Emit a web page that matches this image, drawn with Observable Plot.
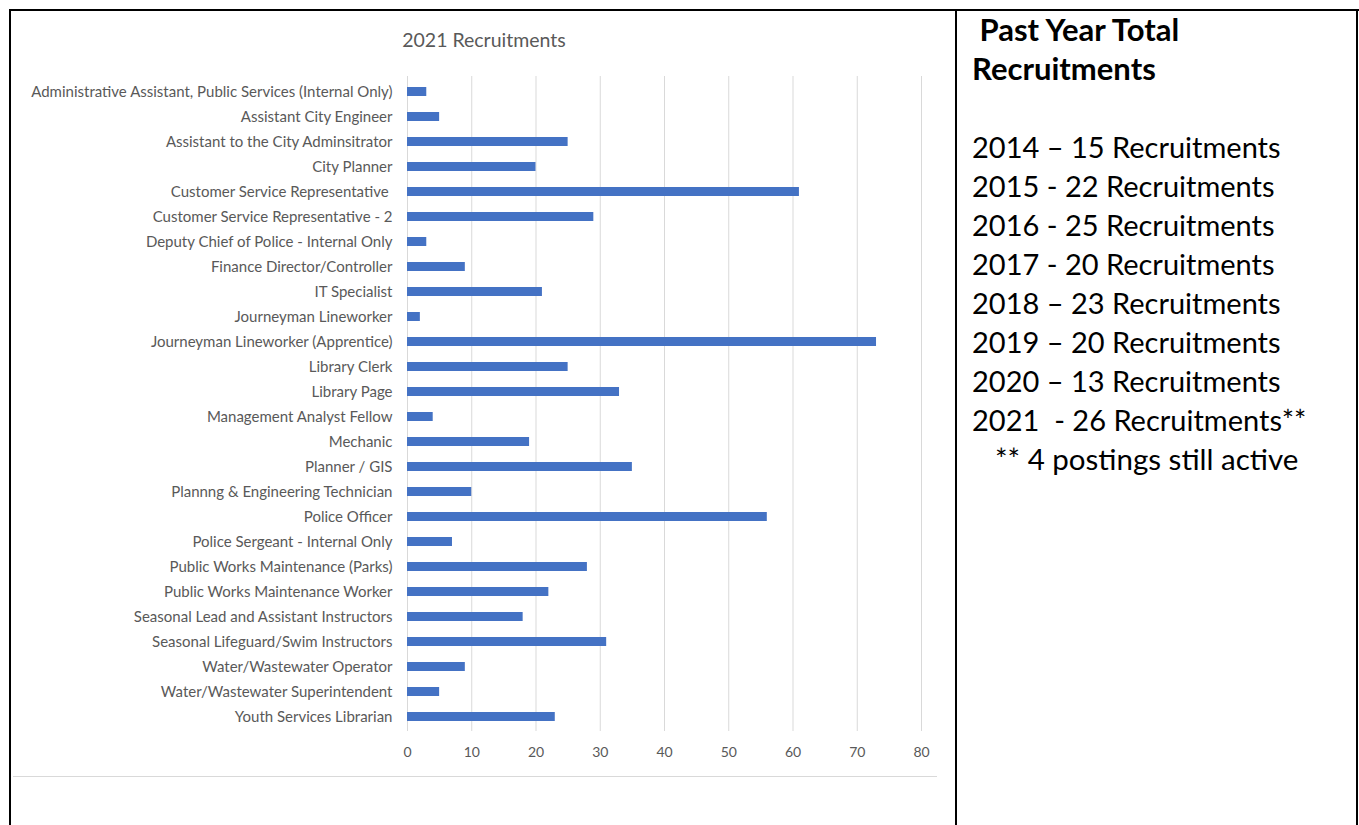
<!DOCTYPE html>
<html>
<head>
<meta charset="utf-8">
<script src="https://cdn.jsdelivr.net/npm/d3@7"></script>
<script src="https://cdn.jsdelivr.net/npm/@observablehq/plot@0.6"></script>
<style>
  html, body { margin: 0; padding: 0; background: #fff; }
  body { width: 1359px; height: 825px; position: relative; overflow: hidden; font-family: Lato, "Open Sans", sans-serif; }
  .abs { position: absolute; }
  .bl { background: #000; position: absolute; }
  #title { left: 0; width: 968px; top: 28px; text-align: center; font-size: 19.5px; color: #595959; line-height: 24px; }
  #chart { left: 0; top: 59px; }
  #chart g[aria-label="x-axis tick label"] { font-size: 14px; }
  .panel { color: #000; line-height: 39px; white-space: pre; }
</style>
</head>
<body>
<div class="bl" style="left:9px; top:9px; width:1350px; height:2px;"></div>
<div class="bl" style="left:9px; top:9px; width:2px; height:816px;"></div>
<div class="bl" style="left:955px; top:9px; width:2px; height:816px;"></div>
<div class="bl" style="left:1356px; top:9px; width:2px; height:816px;"></div>
<div class="abs" style="left:13px; top:776px; width:924px; height:1px; background:#d9d9d9;"></div>
<div id="title" class="abs">2021 Recruitments</div>
<div id="chart" class="abs"></div>
<div id="panelHead" class="abs panel" style="left:972px; top:10px; font-size:31px; font-weight:700;"></div>
<div id="panelList" class="abs panel" style="left:972px; top:127px; font-size:29px;"></div>
<div id="panelNote" class="abs panel" style="left:995px; top:439px; font-size:29.5px;"></div>
<script>
const categories = [
  "Administrative Assistant, Public Services (Internal Only)",
  "Assistant City Engineer",
  "Assistant to the City Adminsitrator",
  "City Planner",
  "Customer Service Representative ",
  "Customer Service Representative - 2",
  "Deputy Chief of Police - Internal Only",
  "Finance Director/Controller",
  "IT Specialist",
  "Journeyman Lineworker",
  "Journeyman Lineworker (Apprentice)",
  "Library Clerk",
  "Library Page",
  "Management Analyst Fellow",
  "Mechanic",
  "Planner / GIS",
  "Plannng & Engineering Technician",
  "Police Officer",
  "Police Sergeant - Internal Only",
  "Public Works Maintenance (Parks)",
  "Public Works Maintenance Worker",
  "Seasonal Lead and Assistant Instructors",
  "Seasonal Lifeguard/Swim Instructors",
  "Water/Wastewater Operator",
  "Water/Wastewater Superintendent",
  "Youth Services Librarian"
];
const applicants = [3, 5, 25, 20, 61, 29, 3, 9, 21, 2, 73, 25, 33, 4, 19, 35, 10, 56, 7, 28, 22, 18, 31, 9, 5, 23];
const xTicks = [0, 10, 20, 30, 40, 50, 60, 70, 80];

const chartTitle = "2021 Recruitments";
const panelTitle = [" Past Year Total", "Recruitments"];
const pastYears = ["2014", "2015", "2016", "2017", "2018", "2019", "2020", "2021 "];
const pastSeps = ["–", "-", "-", "-", "–", "–", "–", "-"];
const pastTotals = [15, 22, 25, 20, 23, 20, 13, 26];
const pastNotes = ["", "", "", "", "", "", "", "**"];
const footnote = "** 4 postings still active";

document.getElementById("title").textContent = chartTitle;
document.getElementById("panelHead").textContent = panelTitle.join("\n");
const lines = pastYears.map((y, i) => `${y} ${pastSeps[i]} ${pastTotals[i]} Recruitments${pastNotes[i]}`);
document.getElementById("panelList").textContent = lines.join("\n");
document.getElementById("panelNote").textContent = footnote;

const data = categories.map((c, i) => ({job: c, value: applicants[i]}));

const chart = Plot.plot({
  width: 945,
  height: 712,
  marginLeft: 407,
  marginRight: 24,
  marginTop: 17,
  marginBottom: 40,
  style: {fontFamily: "Lato, sans-serif", fontSize: "15px", color: "#595959", background: "transparent", overflow: "visible"},
  x: {domain: [0, 80], ticks: xTicks, label: null, tickSize: 0, tickPadding: 16},
  y: {domain: categories, paddingInner: 0.64, paddingOuter: 0.32, label: null, tickSize: 0, tickPadding: 15},
  marks: [
    Plot.ruleX(xTicks, {stroke: "#d9d9d9", strokeWidth: 1}),
    Plot.barX(data, {x: "value", y: "job", fill: "#4472C4"})
  ]
});
document.getElementById("chart").appendChild(chart);
</script>
</body>
</html>
